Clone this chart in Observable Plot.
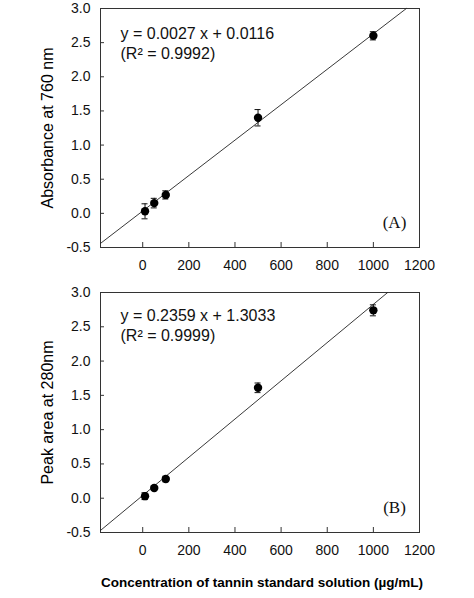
<!DOCTYPE html>
<html><head><meta charset="utf-8">
<script src="https://cdn.jsdelivr.net/npm/d3@7"></script>
<script src="https://cdn.jsdelivr.net/npm/@observablehq/plot@0.6"></script>
<style>body{margin:0;background:#fff} #chart svg{display:block}</style>
</head><body><div id="chart"></div>
<script>
// Data
const concentrations = [10, 50, 100, 500, 1000];
const absorbance = [0.03, 0.15, 0.27, 1.40, 2.60];
const absorbanceErr = [0.11, 0.07, 0.06, 0.12, 0.06];
const peakArea = [0.03, 0.15, 0.28, 1.61, 2.74];
const peakAreaErr = [0.05, 0.03, 0.04, 0.07, 0.08];
const fitAx = [-183, 1143];
const fitAy = [-0.44, 3.0];
const fitBx = [-183, 1062];
const fitBy = [-0.47, 3.0];
const xTicks = [0, 200, 400, 600, 800, 1000, 1200];
const yTicks = [-0.5, 0, 0.5, 1.0, 1.5, 2.0, 2.5, 3.0];
const eqA = ["y = 0.0027 x + 0.0116", "(R² = 0.9992)"];
const eqB = ["y = 0.2359 x + 1.3033", "(R² = 0.9999)"];
const yLabelA = "Absorbance at 760 nm";
const yLabelB = "Peak area at 280nm";
const xLabel = "Concentration of tannin standard solution (µg/mL)";
const panelA = "(A)", panelB = "(B)";

const W = 474, mL = 100, mR = 55;
const frameW = W - mL - mR;

function panel({ys, errs, fx, fy, eq, yLabel, tag, height, mT, mB, eqDy, showX}) {
  const data = concentrations.map((c, i) => ({x: c, y: ys[i], lo: ys[i] - errs[i], hi: ys[i] + errs[i]}));
  const fit = fx.map((x, i) => ({x, y: fy[i]}));
  const frameH = height - mT - mB;
  const sans = "Liberation Sans, Arial, sans-serif";
  const marks = [
    Plot.frame({stroke: "#333", strokeWidth: 1}),
    Plot.tickX(xTicks, {x: d => d, insetTop: frameH - 5, stroke: "#333"}),
    Plot.tickY(yTicks, {y: d => d, insetRight: frameW - 4, stroke: "#333"}),
    Plot.axisX(xTicks, {tickSize: 0, tickPadding: 13, label: null, fontSize: 14, tickFormat: d => String(d)}),
    Plot.axisY(yTicks, {tickSize: 0, tickPadding: 10, label: null, tickFormat: d => d.toFixed(1), fontSize: 14}),
    Plot.line(fit, {x: "x", y: "y", stroke: "#222", strokeWidth: 0.9}),
    Plot.ruleX(data, {x: "x", y1: "lo", y2: "hi", stroke: "#111", strokeWidth: 1}),
    Plot.ruleY(data, {y: "lo", x1: "x", x2: "x", insetLeft: -3, insetRight: -3, stroke: "#111"}),
    Plot.ruleY(data, {y: "hi", x1: "x", x2: "x", insetLeft: -3, insetRight: -3, stroke: "#111"}),
    Plot.dot(data, {x: "x", y: "y", r: 4.2, fill: "#000", stroke: "none"}),
    Plot.text([eq[0]], {text: d => d, frameAnchor: "top-left", textAnchor: "start", lineAnchor: "middle", dx: 20, dy: eqDy, fontSize: 16, fill: "#111"}),
    Plot.text([eq[1]], {text: d => d, frameAnchor: "top-left", textAnchor: "start", lineAnchor: "middle", dx: 20, dy: eqDy + 20, fontSize: 16, fill: "#111"}),
    Plot.text([tag], {text: d => d, frameAnchor: "bottom-right", textAnchor: "middle", lineAnchor: "middle", dx: -25, dy: -25, fontSize: 17, fontFamily: "Liberation Serif, Times New Roman, serif", fill: "#111"}),
    Plot.text([yLabel], {text: d => d, frameAnchor: "left", rotate: -90, dx: -53, textAnchor: "middle", lineAnchor: "middle", fontSize: 16, fill: "#000"})
  ];
  if (showX) {
    marks.push(Plot.text([xLabel], {text: d => d, frameAnchor: "bottom", dy: 50, dx: 2, textAnchor: "middle", lineAnchor: "middle", fontSize: 13.5, fontWeight: "bold", fill: "#000"}));
  }
  return Plot.plot({
    width: W, height,
    marginLeft: mL, marginRight: mR, marginTop: mT, marginBottom: mB,
    x: {domain: [-183, 1200], label: null},
    y: {domain: [-0.5, 3.0], label: null},
    style: {fontFamily: sans, fontSize: "14px", color: "#111", background: "#fff", overflow: "visible"},
    marks
  });
}

const el = document.getElementById("chart");
el.append(panel({ys: absorbance, errs: absorbanceErr, fx: fitAx, fy: fitAy, eq: eqA, yLabel: yLabelA, tag: panelA, height: 280, mT: 8, mB: 33, eqDy: 25, showX: false}));
el.append(panel({ys: peakArea, errs: peakAreaErr, fx: fitBx, fy: fitBy, eq: eqB, yLabel: yLabelB, tag: panelB, height: 318, mT: 12, mB: 66, eqDy: 23, showX: true}));
</script>
</body></html>
